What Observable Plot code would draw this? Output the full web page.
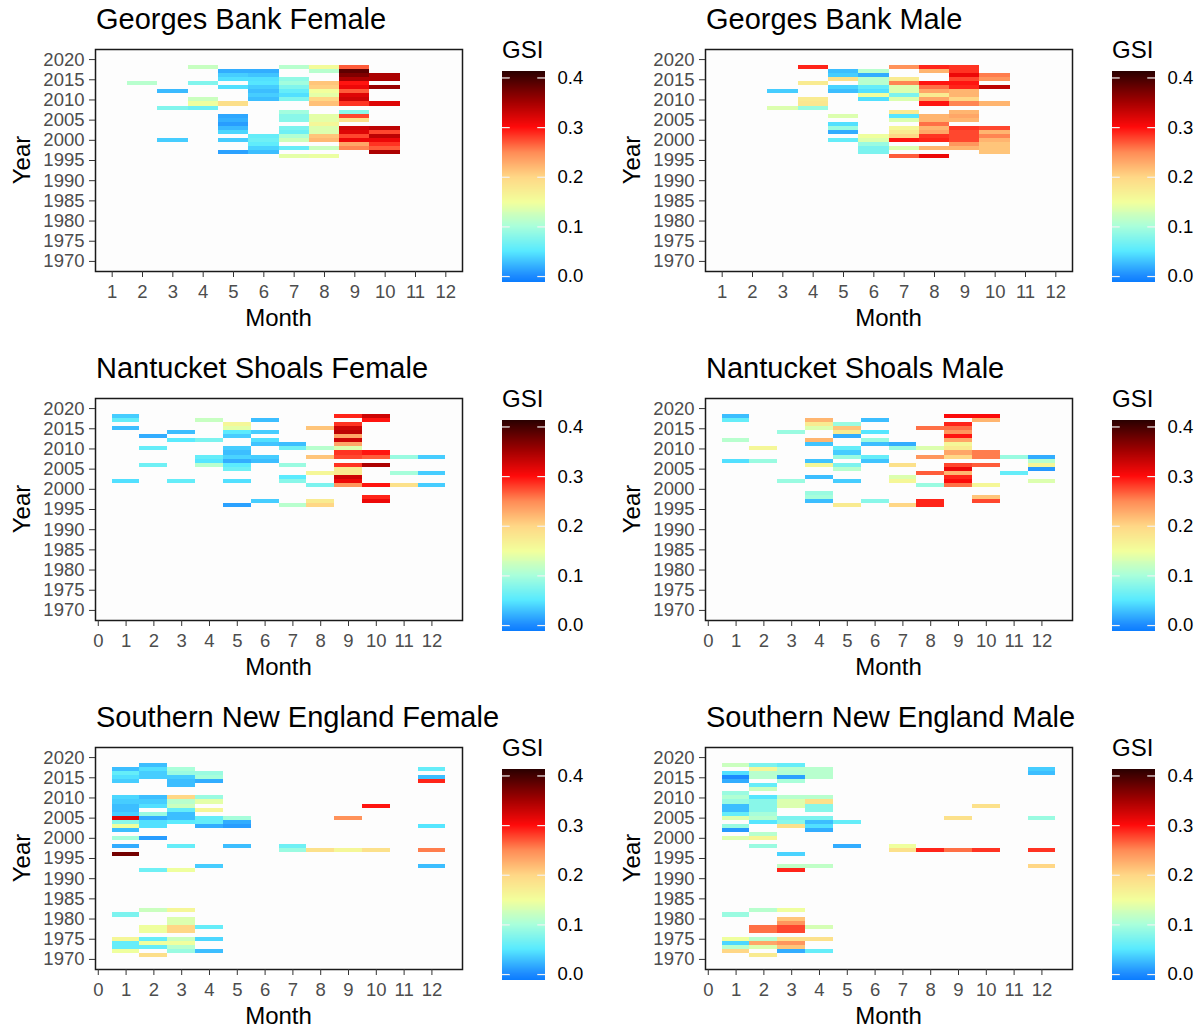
<!DOCTYPE html>
<html>
<head>
<meta charset="utf-8">
<script src="https://cdn.jsdelivr.net/npm/d3@7"></script>
<script src="https://cdn.jsdelivr.net/npm/@observablehq/plot@0.6"></script>
<style>
  body { margin: 0; background: #fff; font-family: "Liberation Sans", Arial, sans-serif; }
  #root { position: relative; width: 1199px; height: 1029px; overflow: hidden; }
  .abs { position: absolute; white-space: nowrap; line-height: 1; color: #000; }
  .title { font-size: 29px; }
  .axlab { font-size: 24px; transform: translate(-50%, -50%); }
  .ylab { font-size: 24px; transform: translate(-50%, -50%) rotate(-90deg); }
  .gsi { font-size: 24px; transform: translateY(-50%); }
  .plotbox { position: absolute; }
</style>
</head>
<body>
<div id="root"></div>
<script>
// ---------- DATA: [month, year, GSI] ----------
const gbFemale = [
  [2,2014,.11],
  [3,2012,.025],[3,2008,.075],[3,2000,.035],
  [4,2018,.12],[4,2014,.075],[4,2010,.122],[4,2009,.148],[4,2008,.064],
  [5,2017,.018],[5,2016,.035],[5,2015,.045],[5,2013,.045],[5,2009,.19],[5,2006,.015],[5,2005,.02],[5,2004,.01],[5,2003,.025],[5,2002,.04],[5,2000,.035],[5,1997,.012],
  [6,2017,.018],[6,2016,.03],[6,2015,.045],[6,2014,.048],[6,2013,.035],[6,2012,.027],[6,2011,.035],[6,2010,.027],[6,2001,.058],[6,2000,.064],[6,1999,.055],[6,1998,.038],[6,1997,.027],
  [7,2018,.11],[7,2015,.085],[7,2014,.095],[7,2013,.075],[7,2012,.058],[7,2011,.045],[7,2010,.075],[7,2007,.095],[7,2006,.08],[7,2005,.08],[7,2003,.072],[7,2002,.064],[7,2001,.105],[7,2000,.125],[7,1998,.058],[7,1996,.14],
  [8,2018,.155],[8,2017,.11],[8,2014,.212],[8,2013,.205],[8,2012,.15],[8,2011,.14],[8,2010,.2],[8,2009,.215],[8,2006,.14],[8,2005,.14],[8,2004,.16],[8,2003,.135],[8,2002,.135],[8,2001,.212],[8,2000,.22],[8,1998,.122],[8,1996,.145],
  [9,2018,.268],[9,2017,.385],[9,2016,.368],[9,2015,.345],[9,2014,.296],[9,2013,.31],[9,2012,.268],[9,2011,.318],[9,2010,.327],[9,2009,.284],[9,2007,.08],[9,2006,.276],[9,2005,.188],[9,2003,.327],[9,2002,.318],[9,2001,.276],[9,2000,.31],[9,1999,.232],[9,1998,.252],
  [10,2016,.345],[10,2015,.345],[10,2013,.355],[10,2009,.318],[10,2003,.336],[10,2002,.276],[10,2001,.336],[10,2000,.31],[10,1999,.284],[10,1998,.268],[10,1997,.345]
];
const gbMale = [
  [3,2012,.035],[3,2008,.135],
  [4,2018,.29],[4,2014,.175],[4,2010,.175],[4,2009,.18],[4,2008,.09],
  [5,2017,.027],[5,2016,.035],[5,2015,.188],[5,2013,.038],[5,2012,.027],[5,2006,.135],[5,2004,.045],[5,2003,.09],[5,2002,.018],[5,2000,.058],
  [6,2017,.11],[6,2016,.018],[6,2015,.11],[6,2014,.11],[6,2013,.058],[6,2012,.045],[6,2011,.148],[6,2010,.045],[6,2001,.148],[6,2000,.135],[6,1999,.09],[6,1998,.072],[6,1997,.072],
  [7,2018,.245],[7,2015,.175],[7,2014,.252],[7,2013,.135],[7,2012,.135],[7,2011,.072],[7,2010,.135],[7,2007,.175],[7,2006,.048],[7,2005,.135],[7,2003,.16],[7,2002,.175],[7,2001,.2],[7,2000,.296],[7,1998,.135],[7,1996,.268],
  [8,2018,.29],[8,2017,.222],[8,2014,.296],[8,2013,.26],[8,2012,.232],[8,2011,.175],[8,2010,.232],[8,2009,.296],[8,2006,.222],[8,2005,.222],[8,2004,.26],[8,2003,.222],[8,2002,.232],[8,2001,.284],[8,2000,.29],[8,1998,.222],[8,1996,.31],
  [9,2018,.284],[9,2017,.284],[9,2016,.31],[9,2015,.276],[9,2014,.296],[9,2013,.29],[9,2012,.222],[9,2011,.222],[9,2010,.2],[9,2009,.252],[9,2007,.222],[9,2006,.232],[9,2005,.222],[9,2003,.284],[9,2002,.276],[9,2001,.276],[9,2000,.276],[9,1999,.242],[9,1998,.222],
  [10,2016,.255],[10,2015,.242],[10,2013,.336],[10,2009,.222],[10,2003,.276],[10,2002,.222],[10,2001,.252],[10,2000,.222],[10,1999,.212],[10,1998,.212],[10,1997,.212]
];
const nsFemale = [
  [1,2018,.035],[1,2017,.058],[1,2015,.027],[1,2002,.045],
  [2,2013,.018],[2,2010,.058],[2,2006,.064],
  [3,2014,.027],[3,2012,.052],[3,2002,.058],
  [4,2017,.12],[4,2012,.072],[4,2008,.058],[4,2007,.048],[4,2006,.11],
  [5,2016,.16],[5,2015,.14],[5,2014,.052],[5,2013,.035],[5,2010,.035],[5,2009,.027],[5,2008,.038],[5,2007,.018],[5,2006,.052],[5,2005,.064],[5,2002,.045],[5,1996,.012],
  [6,2017,.027],[6,2014,.035],[6,2012,.045],[6,2011,.03],[6,2008,.035],[6,2007,.027],[6,1997,.035],
  [7,2011,.027],[7,2010,.064],[7,2006,.09],[7,2003,.052],[7,2002,.08],[7,1996,.11],
  [8,2015,.212],[8,2010,.11],[8,2008,.212],[8,2004,.16],[8,2001,.072],[8,1997,.175],[8,1996,.2],
  [9,2018,.29],[9,2016,.284],[9,2015,.327],[9,2014,.336],[9,2013,.232],[9,2012,.327],[9,2011,.232],[9,2010,.135],[9,2009,.284],[9,2008,.276],[9,2006,.284],[9,2005,.175],[9,2004,.175],[9,2003,.327],[9,2002,.31],[9,2001,.242],
  [10,2018,.327],[10,2017,.296],[10,2009,.296],[10,2008,.268],[10,2006,.345],[10,2001,.296],[10,1998,.29],[10,1997,.31],
  [11,2008,.09],[11,2004,.098],[11,2001,.188],
  [12,2008,.035],[12,2004,.035],[12,2001,.035]
];
const nsMale = [
  [1,2018,.027],[1,2017,.058],[1,2012,.11],[1,2007,.045],
  [2,2010,.16],[2,2007,.09],
  [3,2014,.09],[3,2002,.09],
  [4,2017,.222],[4,2016,.175],[4,2015,.135],[4,2012,.222],[4,2011,.03],[4,2007,.03],[4,2006,.16],[4,2003,.027],[4,1999,.09],[4,1998,.098],[4,1997,.027],
  [5,2016,.09],[5,2015,.212],[5,2014,.175],[5,2013,.018],[5,2010,.058],[5,2009,.035],[5,2008,.09],[5,2006,.072],[5,2005,.11],[5,2002,.035],[5,1996,.175],
  [6,2017,.027],[6,2014,.048],[6,2012,.09],[6,2011,.027],[6,2008,.058],[6,2007,.03],[6,1997,.08],
  [7,2011,.018],[7,2010,.09],[7,2006,.188],[7,2003,.135],[7,2002,.16],[7,1996,.2],
  [8,2015,.26],[8,2010,.135],[8,2008,.242],[8,2004,.268],[8,2001,.09],[8,1997,.29],[8,1996,.29],
  [9,2018,.302],[9,2016,.29],[9,2015,.26],[9,2014,.242],[9,2013,.296],[9,2012,.232],[9,2011,.16],[9,2010,.175],[9,2009,.232],[9,2008,.2],[9,2006,.276],[9,2005,.31],[9,2004,.222],[9,2003,.29],[9,2002,.302],[9,2001,.26],
  [10,2018,.302],[10,2017,.222],[10,2009,.255],[10,2008,.255],[10,2006,.268],[10,2001,.16],[10,1998,.212],[10,1997,.276],
  [11,2008,.09],[11,2004,.058],
  [12,2008,.018],[12,2007,.11],[12,2006,.16],[12,2005,.008],[12,2002,.135]
];
const sneFemale = [
  [1,2017,.027],[1,2016,.058],[1,2015,.045],[1,2014,.035],[1,2010,.04],[1,2009,.035],[1,2008,.027],[1,2007,.027],[1,2006,.035],[1,2005,.318],[1,2004,.08],[1,2003,.148],[1,2002,.027],[1,2000,.098],[1,1998,.018],[1,1996,.374],[1,1981,.072],[1,1975,.16],[1,1974,.058],[1,1973,.058],[1,1972,.148],
  [2,2018,.027],[2,2017,.045],[2,2016,.035],[2,2015,.035],[2,2010,.027],[2,2009,.035],[2,2008,.045],[2,2006,.09],[2,2005,.018],[2,2004,.045],[2,2003,.045],[2,2000,.01],[2,1992,.064],[2,1982,.122],[2,1978,.148],[2,1977,.148],[2,1975,.058],[2,1974,.148],[2,1973,.058],[2,1971,.19],
  [3,2017,.1],[3,2016,.09],[3,2015,.035],[3,2014,.027],[3,2013,.027],[3,2010,.2],[3,2009,.11],[3,2008,.122],[3,2007,.058],[3,2006,.027],[3,2005,.027],[3,2004,.052],[3,1998,.058],[3,1992,.148],[3,1982,.16],[3,1980,.135],[3,1979,.135],[3,1978,.2],[3,1977,.2],[3,1975,.122],[3,1974,.148],[3,1973,.11],[3,1972,.09],
  [4,2016,.09],[4,2015,.098],[4,2014,.018],[4,2010,.09],[4,2009,.14],[4,2007,.16],[4,2005,.058],[4,2004,.058],[4,2003,.018],[4,1993,.035],[4,1978,.058],[4,1975,.04],[4,1972,.027],
  [5,2005,.098],[5,2004,.018],[5,2003,.01],[5,1998,.027],
  [7,1998,.064],[7,1997,.09],
  [8,1997,.188],
  [9,2005,.245],[9,1997,.16],
  [10,2008,.296],[10,1997,.188],
  [12,2017,.058],[12,2015,.027],[12,2014,.29],[12,2003,.048],[12,1997,.255],[12,1993,.027]
];
const sneMale = [
  [1,2018,.122],[1,2016,.045],[1,2015,.0],[1,2014,.018],[1,2011,.09],[1,2010,.105],[1,2009,.09],[1,2008,.027],[1,2007,.027],[1,2006,.058],[1,2005,.135],[1,2003,.09],[1,2002,.008],[1,2000,.135],[1,1981,.09],[1,1975,.148],[1,1974,.04],[1,1973,.11],[1,1972,.2],
  [2,2018,.072],[2,2017,.16],[2,2016,.11],[2,2015,.11],[2,2013,.058],[2,2012,.122],[2,2010,.048],[2,2009,.08],[2,2008,.08],[2,2007,.08],[2,2006,.098],[2,2005,.11],[2,2004,.048],[2,2001,.11],[2,2000,.16],[2,1998,.09],[2,1982,.11],[2,1978,.26],[2,1977,.26],[2,1975,.11],[2,1974,.232],[2,1973,.135],[2,1971,.175],
  [3,2018,.058],[3,2017,.11],[3,2016,.105],[3,2015,.012],[3,2014,.1],[3,2010,.11],[3,2009,.135],[3,2008,.135],[3,2005,.072],[3,2004,.08],[3,2003,.188],[3,1996,.038],[3,1993,.115],[3,1992,.29],[3,1982,.148],[3,1980,.212],[3,1979,.242],[3,1978,.276],[3,1977,.276],[3,1975,.188],[3,1974,.242],[3,1973,.212],[3,1972,.018],
  [4,2017,.11],[4,2016,.11],[4,2015,.11],[4,2010,.11],[4,2009,.188],[4,2008,.08],[4,2007,.08],[4,2005,.072],[4,2004,.027],[4,2003,.045],[4,2002,.018],[4,1993,.115],[4,1978,.13],[4,1975,.188],[4,1972,.058],
  [5,2004,.058],[5,1998,.018],
  [7,1998,.148],[7,1997,.188],
  [8,1997,.29],
  [9,2005,.188],[9,1997,.26],
  [10,2008,.188],[10,1997,.284],
  [12,2017,.035],[12,2016,.027],[12,2005,.09],[12,1997,.284],[12,1993,.2]
];

const panelTitles = ["Georges Bank Female", "Georges Bank Male", "Nantucket Shoals Female", "Nantucket Shoals Male", "Southern New England Female", "Southern New England Male"];
const yearTicks = [1970, 1975, 1980, 1985, 1990, 1995, 2000, 2005, 2010, 2015, 2020];
const monthTicksTop = [1, 2, 3, 4, 5, 6, 7, 8, 9, 10, 11, 12];
const monthTicksAll = [0, 1, 2, 3, 4, 5, 6, 7, 8, 9, 10, 11, 12];
const gsiTicks = [0, 0.1, 0.2, 0.3, 0.4];
const gsiStops = [-0.012, 0, 0.05, 0.1, 0.15, 0.2, 0.25, 0.3, 0.35, 0.411];
const gsiColors = ["#0A7CFF", "#1C8AFF", "#58EAFF", "#AAFFDA", "#F2FF9C", "#FFD786", "#FF8A55", "#FF0A0A", "#A30000", "#2B0000"];

// ---------- RENDER ----------
const root = document.getElementById("root");
const FONT = "'Liberation Sans', Arial, sans-serif";
const colorOpts = {type: "linear", domain: gsiStops, range: gsiColors, interpolate: "rgb", clamp: true};

function addDiv(cls, text, left, top) {
  const d = document.createElement("div");
  d.className = "abs " + cls;
  d.textContent = text;
  d.style.left = left + "px";
  d.style.top = top + "px";
  root.appendChild(d);
}

const datasets = [gbFemale, gbMale, nsFemale, nsMale, sneFemale, sneMale];

datasets.forEach((data, i) => {
  const col = i % 2, row = Math.floor(i / 2);
  const x0 = col * 610, y0 = row * 349;
  const top = row === 0;
  const months = top ? monthTicksTop : monthTicksAll;
  const xDomain = top ? [0.45, 12.55] : [-0.1, 13.1];

  const heat = Plot.plot({
    width: 477, height: 301,
    marginLeft: 95, marginRight: 15, marginTop: 9, marginBottom: 70,
    style: {fontFamily: FONT, background: "transparent", overflow: "visible"},
    x: {domain: xDomain},
    y: {domain: [1967.5, 2022.5]},
    color: colorOpts,
    marks: [
      Plot.frame({fill: "#FDFDFD", stroke: null}),
      Plot.rect(data, {
        x1: d => d[0] - 0.5, x2: d => d[0] + 0.5,
        y1: d => d[1] - 0.5, y2: d => d[1] + 0.5,
        fill: d => d[2], shapeRendering: "crispEdges"
      }),
      Plot.frame({stroke: "#1a1a1a", strokeWidth: 1.5}),
      Plot.axisY(yearTicks, {tickSize: 6, tickPadding: 5, tickFormat: d3.format("d"), fontSize: 18.5, stroke: "#333", fill: "#4D4D4D", label: null}),
      Plot.axisX(months, {tickSize: 6, tickPadding: 7, tickFormat: d3.format("d"), fontSize: 18.5, stroke: "#333", fill: "#4D4D4D", label: null})
    ]
  });
  heat.classList.add("plotbox");
  heat.style.left = x0 + "px";
  heat.style.top = (y0 + 40) + "px";
  root.appendChild(heat);

  const bins = d3.range(gsiStops[0], gsiStops[gsiStops.length - 1], 0.002);
  const leg = Plot.plot({
    width: 110, height: 260,
    marginLeft: 12, marginRight: 55, marginTop: 32, marginBottom: 18,
    style: {fontFamily: FONT, background: "transparent", overflow: "visible"},
    x: {domain: [0, 1], axis: null},
    y: {domain: [gsiStops[0], gsiStops[gsiStops.length - 1]], axis: null},
    color: colorOpts,
    marks: [
      Plot.rect(bins, {x1: 0, x2: 1, y1: d => d, y2: d => d + 0.0022, fill: d => d + 0.001, shapeRendering: "crispEdges"}),
      Plot.ruleY(gsiTicks, {x1: 0, x2: 0.18, stroke: "#f2f2f2", strokeWidth: 1.2}),
      Plot.ruleY(gsiTicks, {x1: 0.82, x2: 1, stroke: "#f2f2f2", strokeWidth: 1.2}),
      Plot.axisY(gsiTicks, {anchor: "right", tickSize: 0, tickPadding: 12, tickFormat: d3.format(".1f"), fontSize: 18.5, fill: "#000", label: null})
    ]
  });
  leg.classList.add("plotbox");
  leg.style.left = (x0 + 490) + "px";
  leg.style.top = (y0 + 40) + "px";
  root.appendChild(leg);

  addDiv("title", panelTitles[i], x0 + 96, y0 + 5);
  addDiv("ylab", "Year", x0 + 22, y0 + 160);
  addDiv("axlab", "Month", x0 + 278.5, y0 + 318);
  addDiv("gsi", "GSI", x0 + 502, y0 + 50);
});
</script>
</body>
</html>
